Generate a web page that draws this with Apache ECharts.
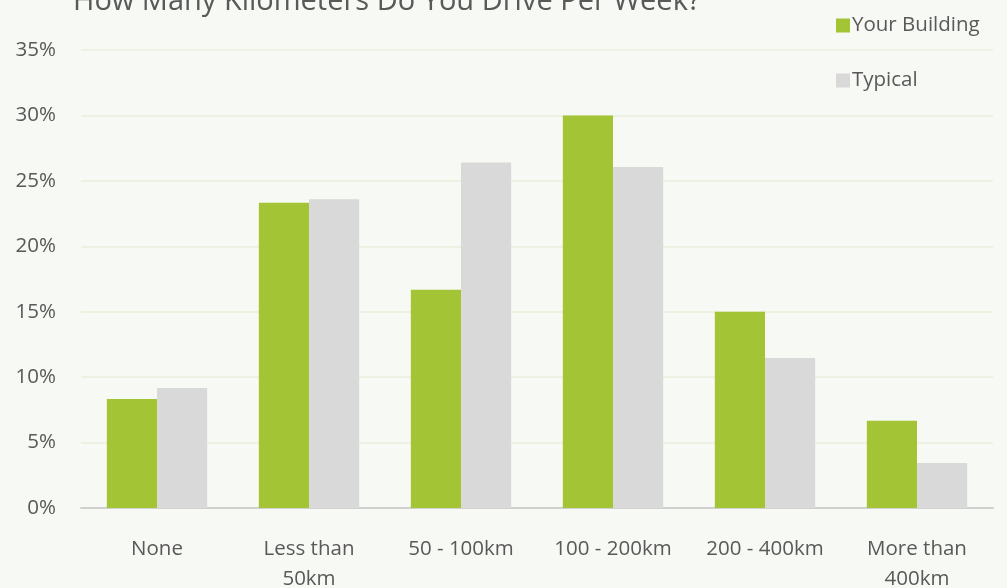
<!DOCTYPE html>
<html><head><meta charset="utf-8">
<script src="https://cdn.jsdelivr.net/npm/echarts@6/dist/echarts.min.js"></script>
<style>html,body{margin:0;padding:0;background:#f7f9f4;}#c{width:1007px;height:588px;}</style>
</head><body><div id="c"></div>
<script>
const titleText = "How Many Kilometers Do You Drive Per Week?";
const categories = ["None", "Less than\n50km", "50 - 100km", "100 - 200km", "200 - 400km", "More than\n400km"];
const yourBuilding = [8.33, 23.33, 16.67, 30.0, 15.0, 6.67];
const typical = [9.17, 23.6, 26.4, 26.06, 11.46, 3.44];
const seriesNames = ["Your Building", "Typical"];
const FONT = "Open Sans";
const chart = echarts.init(document.getElementById('c'), null, {renderer: 'canvas'});
chart.setOption({
  backgroundColor: '#f7f9f4',
  animation: false,
  title: {text: titleText, left: 68, top: -18, textStyle: {fontFamily: FONT, fontSize: 29, fontWeight: 'normal', color: '#595959'}},
  legend: {
    orient: 'vertical', left: 831, top: 10, itemWidth: 14, itemHeight: 14, itemGap: 34,
    icon: 'rect',
    textStyle: {fontFamily: FONT, fontSize: 20.5, color: '#595959', padding: [0,0,0,-3]},
    data: seriesNames
  },
  grid: {left: 81, right: 14, top: 50, bottom: 80, containLabel: false, outerBoundsMode: 'none'},
  xAxis: {
    type: 'category', data: categories,
    axisLine: {lineStyle: {color: '#d0d0d0', width: 2}},
    axisTick: {show: false},
    axisLabel: {fontFamily: FONT, fontSize: 20.5, color: '#595959', margin: 26, lineHeight: 30, interval: 0}
  },
  yAxis: {
    type: 'value', min: 0, max: 35, interval: 5,
    axisLine: {show: false}, axisTick: {show: false},
    axisLabel: {formatter: '{value}%', fontFamily: FONT, fontSize: 20.5, color: '#595959', margin: 25},
    splitLine: {lineStyle: {color: '#eaeedc', width: 1.5}}
  },
  series: [
    {name: seriesNames[0], type: 'bar', data: yourBuilding, barGap: '0%', barCategoryGap: '34%', itemStyle: {color: '#a2c435'}},
    {name: seriesNames[1], type: 'bar', data: typical, itemStyle: {color: '#d9d9d9'}}
  ]
});
</script></body></html>
